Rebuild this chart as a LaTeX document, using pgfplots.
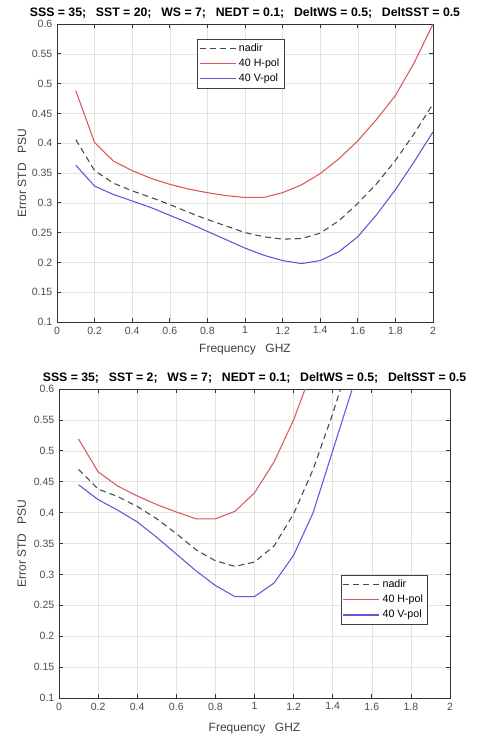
\documentclass[border=0pt]{standalone}
\usepackage{fontspec}
\setmainfont{Liberation Sans}
\usepackage{pgfplots}
\pgfplotsset{compat=1.18}
\definecolor{mred}{HTML}{D9585A}
\definecolor{mblue}{HTML}{5A5AD8}
\definecolor{mgray}{HTML}{484848}
\definecolor{axgray}{HTML}{333333}

\newcommand{\gap}{\hspace{0.8em}}

\pgfplotsset{
  matlab/.style={
    scale only axis,
    xmin=0, xmax=2, ymin=0.1, ymax=0.6,
    xtick={0,0.2,...,2.01},
    ytick={0.1,0.15,...,0.61},
    grid=major,
    grid style={gray!22, line width=0.4pt},
    axis line style={axgray, line width=0.6pt},
    tick style={axgray, line width=0.5pt},
    tick align=inside,
    major tick length=3pt,
    xtick pos=both, ytick pos=both,
    /pgf/number format/assume math mode=true,
    tick label style={font=\fontsize{7.9}{9}\selectfont, text=black!70},
    label style={font=\fontsize{9}{11}\selectfont, text=black!75},
    title style={font=\fontsize{9.2}{11}\selectfont\bfseries, anchor=south, yshift=-5pt},
    legend style={font=\fontsize{8}{9.4}\selectfont, draw=black!75, line width=0.5pt,
      inner sep=1.5pt, row sep=0pt, cells={anchor=west}},
    legend image code/.code={\draw[#1] (0pt,0pt) -- (27pt,0pt);},
    every axis plot/.append style={line width=0.8pt},
  }
}

\begin{document}
\begin{tikzpicture}
\useasboundingbox (0,0) rectangle (365.25pt,552pt);

% upper panel
\begin{axis}[matlab,
  at={(42.75pt,310.5pt)}, anchor=south west,
  width=282pt, height=223.5pt,
  title={SSS = 35;\gap SST = 20;\gap WS = 7;\gap NEDT = 0.1;\gap DeltWS = 0.5;\gap DeltSST = 0.5},
  xlabel={Frequency\gap GHZ},
  ylabel={Error STD\gap PSU},
  xlabel style={at={(axis description cs:0.5,-0.094)}, anchor=center},
  ylabel style={at={(axis description cs:-0.093,0.5)}, anchor=center},
  legend style={at={(0.372,0.95)}, anchor=north west},
]
\addplot[mgray, dash pattern=on 4.5pt off 3pt] coordinates {
 (0.1,0.406) (0.2,0.354) (0.3,0.333) (0.4,0.320) (0.5,0.309) (0.6,0.297)
 (0.7,0.284) (0.8,0.272) (0.9,0.261) (1.0,0.250) (1.1,0.243) (1.2,0.239)
 (1.3,0.240) (1.4,0.249) (1.5,0.270) (1.6,0.299) (1.7,0.332) (1.8,0.371)
 (1.9,0.416) (2.0,0.466)};
\addplot[mred] coordinates {
 (0.1,0.488) (0.2,0.401) (0.3,0.370) (0.4,0.354) (0.5,0.341) (0.6,0.331)
 (0.7,0.323) (0.8,0.317) (0.9,0.312) (1.0,0.309) (1.1,0.309) (1.2,0.317)
 (1.3,0.330) (1.4,0.349) (1.5,0.374) (1.6,0.404) (1.7,0.440) (1.8,0.480)
 (1.9,0.535) (2.0,0.600)};
\addplot[mblue] coordinates {
 (0.1,0.363) (0.2,0.328) (0.3,0.314) (0.4,0.303) (0.5,0.292) (0.6,0.279)
 (0.7,0.266) (0.8,0.252) (0.9,0.238) (1.0,0.224) (1.1,0.212) (1.2,0.203)
 (1.3,0.198) (1.4,0.203) (1.5,0.218) (1.6,0.243) (1.7,0.280) (1.8,0.322)
 (1.9,0.369) (2.0,0.419)};
\legend{nadir, 40 H-pol, 40 V-pol}
\end{axis}

% lower panel
\begin{axis}[matlab,
  at={(44.25pt,28.5pt)}, anchor=south west,
  width=293.25pt, height=231.75pt,
  title={SSS = 35;\gap SST = 2;\gap WS = 7;\gap NEDT = 0.1;\gap DeltWS = 0.5;\gap DeltSST = 0.5},
  xlabel={Frequency\gap GHZ},
  ylabel={Error STD\gap PSU},
  xlabel style={at={(axis description cs:0.5,-0.1)}, anchor=center},
  ylabel style={at={(axis description cs:-0.095,0.5)}, anchor=center},
  legend style={at={(0.72,0.398)}, anchor=north west},
]
\addplot[mgray, dash pattern=on 4.5pt off 3pt] coordinates {
 (0.1,0.470) (0.2,0.438) (0.3,0.426) (0.4,0.410) (0.5,0.390) (0.6,0.366)
 (0.7,0.340) (0.8,0.322) (0.9,0.313) (1.0,0.320) (1.1,0.346) (1.2,0.398)
 (1.3,0.470) (1.4,0.560) (1.5,0.660)};
\addplot[mred] coordinates {
 (0.1,0.519) (0.2,0.466) (0.3,0.443) (0.4,0.427) (0.5,0.413) (0.6,0.401)
 (0.7,0.390) (0.8,0.390) (0.9,0.402) (1.0,0.432) (1.1,0.482) (1.2,0.550)
 (1.3,0.635) (1.4,0.730)};
\addplot[mblue] coordinates {
 (0.1,0.445) (0.2,0.421) (0.3,0.404) (0.4,0.385) (0.5,0.360) (0.6,0.333)
 (0.7,0.306) (0.8,0.282) (0.9,0.264) (1.0,0.264) (1.1,0.286) (1.2,0.331)
 (1.3,0.400) (1.4,0.500) (1.5,0.600) (1.6,0.710)};
\legend{nadir, 40 H-pol, 40 V-pol}
\end{axis}
\end{tikzpicture}
\end{document}
